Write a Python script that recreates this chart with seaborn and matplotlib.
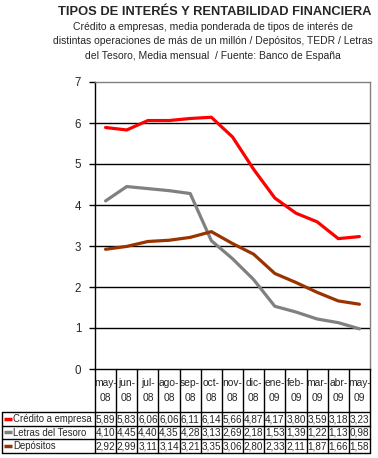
import matplotlib
matplotlib.use("Agg")
import matplotlib.pyplot as plt
import seaborn as sns
import pandas as pd

# data
months = ["may-08", "jun-08", "jul-08", "ago-08", "sep-08", "oct-08", "nov-08",
          "dic-08", "ene-09", "feb-09", "mar-09", "abr-09", "may-09"]
credito = [5.89, 5.83, 6.06, 6.06, 6.11, 6.14, 5.66, 4.87, 4.17, 3.80, 3.59, 3.18, 3.23]
letras = [4.10, 4.45, 4.40, 4.35, 4.28, 3.13, 2.69, 2.18, 1.53, 1.39, 1.22, 1.13, 0.98]
depositos = [2.92, 2.99, 3.11, 3.14, 3.21, 3.35, 3.06, 2.80, 2.33, 2.11, 1.87, 1.66, 1.58]
series_names = ["Crédito a empresa", "Letras del Tesoro", "Depósitos"]
colors = ["#FF0000", "#808080", "#993300"]

sns.set_style("white")
plt.rcParams['font.family'] = ['Liberation Sans', 'DejaVu Sans']

W, H = 378, 458
fig = plt.figure(figsize=(W / 100, H / 100), dpi=100)

# plot area in pixels
x0, x1, ytop, ybot = 95, 370, 82, 369
ax = fig.add_axes([x0 / W, 1 - ybot / H, (x1 - x0) / W, (ybot - ytop) / H])

df = pd.DataFrame({"idx": list(range(len(months))) * 3,
                   "valor": credito + letras + depositos,
                   "serie": [s for s in series_names for _ in months]})
sns.lineplot(data=df, x="idx", y="valor", hue="serie", palette=colors,
             linewidth=2.3, legend=False, ax=ax)

ax.set_xlim(-0.5, len(months) - 0.5)
ax.set_ylim(0, 7)
ax.set_yticks(range(8))
ax.set_xticks([])
ax.set_xlabel("")
ax.set_ylabel("")
for y in range(1, 7):
    ax.axhline(y, color="black", lw=1, zorder=0)
ax.spines["top"].set_color("#808080")
ax.spines["right"].set_color("#808080")
ax.spines["left"].set_color("black")
ax.spines["bottom"].set_color("black")
for s in ax.spines.values():
    s.set_linewidth(1)
ax.tick_params(axis="y", direction="out", length=4, width=1, color="black",
               labelsize=8.3, pad=6, left=True)

# title and subtitle
fig.text(215 / W, 1 - 12 / H, "TIPOS DE INTERÉS Y RENTABILIDAD FINANCIERA",
         ha="center", va="center", fontsize=9.3, fontweight="bold")
sub = ["Crédito a empresas, media ponderada de tipos de interés de",
       "distintas operaciones de más de un millón / Depósitos, TEDR / Letras",
       "del Tesoro, Media mensual  / Fuente: Banco de España"]
for i, line in enumerate(sub):
    fig.text(213 / W, 1 - (27 + 14.3 * i) / H, line, ha="center", va="center",
             fontsize=7.5)

# data table under the chart, drawn in pixel coordinates
tax = fig.add_axes([0, 0, 1, 1])
tax.set_xlim(0, W)
tax.set_ylim(H, 0)
tax.axis("off")
cw = (x1 - x0) / len(months)
rows_y = [ybot, 412, 425.5, 439, 452.5]
lc = "black"
# vertical lines
for i in range(len(months) + 1):
    tax.plot([x0 + i * cw] * 2, [rows_y[0], rows_y[-1]], color=lc, lw=1)
tax.plot([2, 2], [rows_y[1], rows_y[-1]], color=lc, lw=1)
for y in rows_y[1:]:
    tax.plot([2, x1], [y, y], color=lc, lw=1)
# header
for i, m in enumerate(months):
    a, b = m.split("-")
    cx = x0 + (i + 0.5) * cw
    tax.text(cx, 383, a + "-", ha="center", va="center", fontsize=7.4)
    tax.text(cx, 398, b, ha="center", va="center", fontsize=7.4)
# rows
for r, (name, vals, c) in enumerate(zip(series_names, [credito, letras, depositos], colors)):
    cy = (rows_y[r + 1] + rows_y[r + 2]) / 2
    tax.plot([4, 12], [cy, cy], color=c, lw=2.5, solid_capstyle="butt")
    tax.text(13, cy + 0.5, name, ha="left", va="center", fontsize=6.9)
    for i, v in enumerate(vals):
        tax.text(x0 + (i + 0.5) * cw, cy + 0.5, f"{v:.2f}".replace(".", ","),
                 ha="center", va="center", fontsize=7.2)

fig.savefig("out.png", dpi=100)
